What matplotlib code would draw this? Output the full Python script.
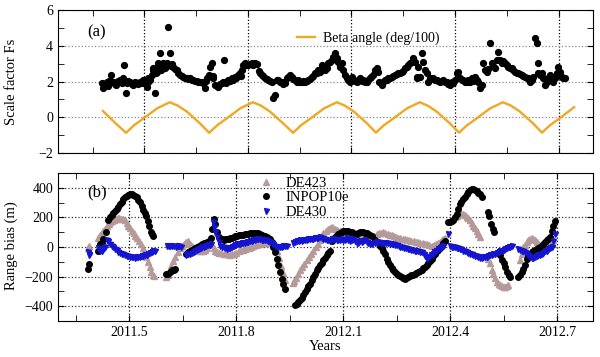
import matplotlib
matplotlib.use("Agg")
import matplotlib.pyplot as plt
from matplotlib.ticker import MultipleLocator

plt.rcParams['font.family'] = ['Liberation Serif', 'DejaVu Serif']

# --- (a) scale factor Fs ---
FS_YEAR = [
    2011.376, 2011.379, 2011.383, 2011.387, 2011.391, 2011.395, 2011.399, 2011.403, 2011.406, 2011.410,
    2011.414, 2011.418, 2011.420, 2011.425, 2011.430, 2011.434, 2011.439, 2011.442, 2011.447, 2011.449,
    2011.453, 2011.459, 2011.463, 2011.468, 2011.472, 2011.478, 2011.483, 2011.488, 2011.492, 2011.497,
    2011.502, 2011.507, 2011.510, 2011.512, 2011.517, 2011.521, 2011.524, 2011.526, 2011.531, 2011.533,
    2011.536, 2011.538, 2011.541, 2011.544, 2011.546, 2011.547, 2011.550, 2011.553, 2011.555, 2011.558,
    2011.560, 2011.565, 2011.570, 2011.574, 2011.577, 2011.579, 2011.584, 2011.589, 2011.594, 2011.598,
    2011.603, 2011.608, 2011.613, 2011.618, 2011.623, 2011.628, 2011.632, 2011.637, 2011.642, 2011.647,
    2011.652, 2011.656, 2011.661, 2011.666, 2011.671, 2011.676, 2011.678, 2011.681, 2011.686, 2011.690,
    2011.695, 2011.698, 2011.700, 2011.705, 2011.710, 2011.714, 2011.719, 2011.724, 2011.728, 2011.732,
    2011.734, 2011.738, 2011.743, 2011.748, 2011.753, 2011.758, 2011.763, 2011.767, 2011.772, 2011.777,
    2011.780, 2011.782, 2011.787, 2011.792, 2011.796, 2011.801, 2011.806, 2011.811, 2011.816, 2011.821,
    2011.826, 2011.831, 2011.835, 2011.840, 2011.845, 2011.850, 2011.855, 2011.859, 2011.864, 2011.869,
    2011.874, 2011.879, 2011.883, 2011.888, 2011.893, 2011.898, 2011.903, 2011.908, 2011.912, 2011.917,
    2011.922, 2011.927, 2011.932, 2011.937, 2011.941, 2011.946, 2011.951, 2011.956, 2011.961, 2011.966,
    2011.970, 2011.975, 2011.980, 2011.985, 2011.990, 2011.995, 2012.000, 2012.004, 2012.009, 2012.014,
    2012.019, 2012.023, 2012.028, 2012.033, 2012.038, 2012.043, 2012.048, 2012.052, 2012.057, 2012.062,
    2012.067, 2012.072, 2012.077, 2012.081, 2012.086, 2012.091, 2012.096, 2012.101, 2012.106, 2012.110,
    2012.115, 2012.120, 2012.125, 2012.130, 2012.134, 2012.139, 2012.144, 2012.149, 2012.154, 2012.158,
    2012.163, 2012.168, 2012.173, 2012.178, 2012.181, 2012.185, 2012.188, 2012.192, 2012.197, 2012.202,
    2012.207, 2012.212, 2012.217, 2012.221, 2012.226, 2012.231, 2012.236, 2012.241, 2012.246, 2012.250,
    2012.255, 2012.260, 2012.265, 2012.270, 2012.275, 2012.279, 2012.284, 2012.289, 2012.291, 2012.294,
    2012.299, 2012.304, 2012.308, 2012.313, 2012.318, 2012.323, 2012.328, 2012.332, 2012.337, 2012.342,
    2012.347, 2012.352, 2012.357, 2012.361, 2012.366, 2012.371, 2012.376, 2012.381, 2012.386, 2012.390,
    2012.395, 2012.400, 2012.405, 2012.410, 2012.415, 2012.420, 2012.424, 2012.429, 2012.434, 2012.439,
    2012.443, 2012.448, 2012.453, 2012.458, 2012.463, 2012.468, 2012.472, 2012.477, 2012.482, 2012.487,
    2012.492, 2012.497, 2012.501, 2012.506, 2012.511, 2012.516, 2012.521, 2012.526, 2012.530, 2012.535,
    2012.540, 2012.545, 2012.550, 2012.555, 2012.560, 2012.564, 2012.569, 2012.574, 2012.579, 2012.583,
    2012.588, 2012.593, 2012.598, 2012.603, 2012.608, 2012.612, 2012.617, 2012.622, 2012.627, 2012.632,
    2012.637, 2012.640, 2012.641, 2012.646, 2012.651, 2012.656, 2012.661, 2012.666, 2012.670, 2012.675,
    2012.680, 2012.685, 2012.690, 2012.695, 2012.699, 2012.704, 2012.709, 2012.714, 2012.719,
]
FS_VAL = [
    1.93, 1.62, 1.85, 1.80, 1.95, 1.75, 2.05, 2.36, 2.00, 1.99,
    1.88, 1.80, 1.95, 2.02, 2.08, 1.92, 2.17, 2.92, 1.37, 1.90,
    2.02, 1.99, 1.85, 1.80, 1.95, 1.90, 1.84, 1.99, 1.93, 2.08,
    1.90, 1.71, 1.95, 2.17, 2.08, 2.36, 2.64, 2.73, 1.34, 2.45,
    2.83, 2.55, 3.01, 2.70, 3.57, 2.64, 2.92, 2.80, 3.01, 2.75,
    2.73, 3.05, 5.03, 3.61, 2.85, 2.98, 2.83, 2.70, 2.64, 2.50,
    2.36, 2.30, 2.27, 2.20, 2.17, 2.12, 2.17, 2.10, 2.08, 2.05,
    2.04, 2.00, 1.99, 1.95, 1.90, 1.62, 2.05, 2.17, 2.36, 2.83,
    3.01, 2.30, 2.17, 1.80, 1.75, 1.71, 1.85, 1.90, 1.95, 3.20,
    1.99, 1.92, 2.08, 2.02, 2.17, 2.10, 2.27, 2.20, 2.36, 2.45,
    2.30, 2.64, 2.92, 3.01, 2.95, 2.92, 3.00, 3.01, 2.95, 3.01,
    2.98, 2.60, 2.45, 2.36, 2.30, 2.17, 2.12, 2.08, 2.02, 1.99,
    1.06, 1.24, 2.10, 2.08, 1.95, 1.99, 1.85, 1.90, 2.17, 2.25,
    2.36, 2.27, 2.15, 2.08, 2.00, 2.08, 1.95, 1.99, 2.05, 1.99,
    2.02, 2.08, 2.15, 2.27, 2.30, 2.45, 2.50, 2.64, 2.55, 2.92,
    2.83, 2.64, 2.75, 3.01, 3.10, 3.20, 3.39, 3.57, 3.29, 3.11,
    2.83, 3.01, 2.64, 2.36, 2.17, 2.08, 1.99, 2.27, 2.08, 2.02,
    1.99, 2.10, 2.17, 2.05, 2.08, 1.95, 1.99, 2.08, 2.17, 2.27,
    2.36, 2.64, 2.73, 2.55, 1.99, 1.90, 1.80, 2.00, 2.08, 2.10,
    2.17, 2.20, 2.27, 2.30, 2.36, 2.40, 2.45, 2.50, 2.55, 2.60,
    2.73, 2.80, 2.92, 3.05, 3.11, 3.29, 3.11, 2.17, 2.27, 2.83,
    2.27, 3.57, 3.11, 2.64, 2.45, 1.99, 2.17, 2.12, 2.17, 2.08,
    2.08, 2.02, 1.99, 2.05, 2.08, 2.00, 1.99, 1.85, 1.80, 1.95,
    1.90, 2.10, 2.45, 2.55, 2.17, 2.10, 2.08, 2.00, 1.99, 2.08,
    1.95, 2.17, 2.05, 2.27, 2.10, 1.99, 1.62, 1.80, 3.01, 2.64,
    2.55, 2.70, 4.17, 3.01, 2.85, 2.73, 3.20, 3.67, 3.20, 3.05,
    3.16, 3.01, 2.92, 2.83, 2.75, 2.73, 2.64, 2.55, 2.50, 2.45,
    2.40, 2.36, 2.30, 2.27, 2.20, 2.17, 1.99, 2.08, 2.27, 4.41,
    4.13, 3.01, 2.45, 2.36, 2.45, 2.17, 1.80, 1.99, 2.17, 2.36,
    2.08, 1.99, 2.17, 2.45, 2.83, 2.55, 2.27, 2.17, 2.20,
]

BETA_YEAR = [
    2011.380, 2011.417, 2011.447, 2011.470, 2011.496, 2011.537, 2011.574, 2011.597, 2011.623, 2011.661,
    2011.688, 2011.711, 2011.737, 2011.778, 2011.815, 2011.838, 2011.864, 2011.902,
    2011.931, 2011.954, 2011.980, 2012.021, 2012.058, 2012.081, 2012.107, 2012.145,
    2012.171, 2012.194, 2012.220, 2012.261, 2012.298, 2012.321, 2012.347, 2012.385,
    2012.412, 2012.435, 2012.461, 2012.502, 2012.539, 2012.562, 2012.588, 2012.626,
    2012.652, 2012.675, 2012.701, 2012.745,
]
BETA_VAL = [
    0.35, -0.34, -0.87, -0.45, -0.09, 0.50, 0.84, 0.65, 0.32, -0.34,
    -0.87, -0.45, -0.09, 0.50, 0.84, 0.65, 0.32, -0.34,
    -0.87, -0.45, -0.09, 0.50, 0.84, 0.65, 0.32, -0.34,
    -0.86, -0.45, -0.09, 0.50, 0.84, 0.65, 0.32, -0.34,
    -0.86, -0.45, -0.09, 0.50, 0.84, 0.65, 0.32, -0.34,
    -0.86, -0.45, -0.09, 0.56,
]

# --- (b) range bias (m) ---
INPOP_YEAR = [
    2011.385, 2011.387,
    2011.413, 2011.418, 2011.422, 2011.427, 2011.434, 2011.439, 2011.446, 2011.450, 2011.455, 2011.460,
    2011.464, 2011.469, 2011.474, 2011.478, 2011.483, 2011.488, 2011.493, 2011.497, 2011.502, 2011.507,
    2011.511, 2011.516, 2011.521, 2011.525, 2011.530, 2011.535, 2011.539, 2011.543, 2011.546, 2011.551,
    2011.556, 2011.561, 2011.564, 2011.567,
    2011.604, 2011.609, 2011.614, 2011.619, 2011.624, 2011.628,
    2011.660, 2011.665, 2011.670, 2011.675, 2011.680, 2011.685, 2011.690, 2011.695, 2011.700, 2011.705,
    2011.710, 2011.717, 2011.722, 2011.728, 2011.733, 2011.736, 2011.740, 2011.745, 2011.750, 2011.754,
    2011.759, 2011.764, 2011.768, 2011.773, 2011.778, 2011.782, 2011.787, 2011.792, 2011.796, 2011.801,
    2011.806, 2011.810, 2011.815, 2011.820, 2011.825, 2011.829, 2011.834, 2011.838, 2011.843, 2011.848,
    2011.852, 2011.857, 2011.862, 2011.866, 2011.871, 2011.876, 2011.880, 2011.885, 2011.890, 2011.894,
    2011.899, 2011.904, 2011.908, 2011.913, 2011.918, 2011.922, 2011.927, 2011.932, 2011.936,
    2011.964, 2011.969, 2011.974, 2011.979, 2011.984, 2011.988, 2011.993, 2011.997, 2012.002, 2012.007,
    2012.011, 2012.016, 2012.021, 2012.025, 2012.030, 2012.035, 2012.040, 2012.044, 2012.049, 2012.053,
    2012.058, 2012.063,
    2012.067, 2012.072, 2012.077, 2012.082, 2012.086, 2012.091, 2012.095, 2012.100, 2012.105, 2012.110,
    2012.114, 2012.119, 2012.123, 2012.128, 2012.133, 2012.137, 2012.142, 2012.147, 2012.151, 2012.156,
    2012.161, 2012.165, 2012.170, 2012.175, 2012.179,
    2012.189, 2012.203, 2012.208, 2012.212, 2012.217, 2012.221, 2012.226, 2012.231, 2012.236, 2012.240,
    2012.245, 2012.249, 2012.254, 2012.259, 2012.264, 2012.268, 2012.273, 2012.277, 2012.282, 2012.287,
    2012.291, 2012.296, 2012.301, 2012.305, 2012.310, 2012.315, 2012.320, 2012.324, 2012.329, 2012.334,
    2012.338, 2012.343, 2012.348, 2012.352, 2012.357, 2012.362, 2012.366, 2012.371, 2012.376, 2012.380,
    2012.385,
    2012.394, 2012.399, 2012.404, 2012.408, 2012.413, 2012.418, 2012.422, 2012.427, 2012.431, 2012.436,
    2012.441, 2012.446, 2012.450, 2012.455, 2012.460, 2012.464, 2012.469, 2012.474, 2012.478, 2012.483,
    2012.488,
    2012.506, 2012.509, 2012.513, 2012.519, 2012.522,
    2012.539, 2012.544, 2012.549, 2012.553, 2012.558, 2012.563, 2012.567,
    2012.591, 2012.595, 2012.600, 2012.605, 2012.609, 2012.614, 2012.619, 2012.623, 2012.628, 2012.633,
    2012.637, 2012.642, 2012.647, 2012.651, 2012.656, 2012.661, 2012.665, 2012.670, 2012.675, 2012.679,
    2012.684, 2012.689, 2012.693,
]
INPOP_RB = [
    -147, -113,
    -24, 21, 30, 55, 100, 183, 200, 215, 227, 242,
    257, 273, 290, 307, 324, 336, 346, 353, 357, 356,
    353, 345, 335, 320, 301, 275, 250, 230, 212, 178,
    140, 100, 88, 77,
    -185, -180, -170, -158, -152, -147,
    -50, -35, -28, -20, -12, -5, 3, 8, 12, 18,
    25, 32, 40, 60, 120, 190, 156, 100, 66, 55,
    52, 50, 52, 55, 55, 58, 62, 66, 72, 77,
    78, 80, 82, 84, 86, 88, 90, 93, 95, 93,
    95, 95, 92, 88, 83, 77, 72, 66, 60, 55,
    32, -1, -35, -80, -124, -169, -214, -250, -281,
    -393, -382, -372, -360, -343, -326, -304, -281, -265, -248,
    -226, -203, -180, -158, -141, -124, -107, -91, -75, -57,
    -42, -24,
    40, 55, 66, 77, 85, 92, 100, 105, 111, 108,
    105, 102, 100, 95, 88, 90, 95, 100, 102, 100,
    95, 92, 88, 80, 77,
    44, 10, -5, -24, -50, -80, -100, -124, -140, -158,
    -170, -180, -190, -198, -205, -212, -214, -210, -205, -198,
    -192, -188, -182, -178, -172, -165, -155, -145, -132, -120,
    -105, -95, -80, -60, -45, -30, -20, -5, 10, 25,
    40,
    167, 167, 178, 180, 200, 223, 257, 290, 305, 324,
    340, 357, 370, 384, 389, 391, 386, 380, 368, 357,
    340,
    234, 212, 156, 122, 100,
    -57, -85, -110, -135, -169, -191, -203,
    -203, -190, -169, -147, -124, -80, -60, -46, -35, -24,
    -18, -12, -6, -1, 10, 21, 32, 44, 55, 66,
    111, 145, 178,
]

DE423_YEAR = [
    2011.384, 2011.387,
    2011.413, 2011.418, 2011.422, 2011.427, 2011.432, 2011.437, 2011.442, 2011.447, 2011.452, 2011.457,
    2011.462, 2011.467, 2011.472, 2011.477, 2011.482, 2011.487, 2011.492, 2011.497, 2011.502, 2011.507,
    2011.512, 2011.517, 2011.522, 2011.527, 2011.532, 2011.537, 2011.542, 2011.547, 2011.552, 2011.557,
    2011.562, 2011.566, 2011.570,
    2011.603, 2011.608, 2011.613, 2011.618, 2011.623, 2011.629, 2011.635, 2011.641, 2011.647, 2011.653,
    2011.659, 2011.664,
    2011.670, 2011.676, 2011.682, 2011.688, 2011.694, 2011.700, 2011.706, 2011.712, 2011.718, 2011.724,
    2011.729, 2011.736, 2011.741, 2011.746, 2011.752, 2011.758, 2011.764, 2011.770, 2011.776, 2011.782,
    2011.788, 2011.794, 2011.800, 2011.806, 2011.812, 2011.818, 2011.824, 2011.830, 2011.836, 2011.842,
    2011.848, 2011.854, 2011.860, 2011.866, 2011.872, 2011.878, 2011.884, 2011.890, 2011.896, 2011.902,
    2011.908, 2011.914, 2011.920, 2011.926, 2011.931, 2011.936,
    2011.958, 2011.963, 2011.968, 2011.974, 2011.979, 2011.985, 2011.991, 2011.997, 2012.003, 2012.010,
    2012.016, 2012.022, 2012.029, 2012.035, 2012.040, 2012.044, 2012.050, 2012.056, 2012.062, 2012.067,
    2012.072, 2012.077, 2012.082, 2012.086, 2012.091, 2012.096, 2012.102, 2012.108, 2012.114, 2012.120,
    2012.126, 2012.132, 2012.138, 2012.144, 2012.151, 2012.158, 2012.165, 2012.172, 2012.180, 2012.186,
    2012.193, 2012.199, 2012.205, 2012.212, 2012.218, 2012.224, 2012.230, 2012.236, 2012.242, 2012.248,
    2012.254, 2012.260, 2012.266, 2012.273, 2012.279, 2012.285, 2012.291, 2012.297, 2012.303, 2012.310,
    2012.316, 2012.322, 2012.329, 2012.335, 2012.341, 2012.348, 2012.354, 2012.360, 2012.366, 2012.372,
    2012.376, 2012.380, 2012.385,
    2012.408, 2012.413, 2012.418, 2012.422, 2012.427, 2012.431, 2012.436, 2012.441, 2012.446, 2012.450,
    2012.455, 2012.460, 2012.464, 2012.469, 2012.474, 2012.478, 2012.483,
    2012.506, 2012.511, 2012.516, 2012.520, 2012.525, 2012.530, 2012.535, 2012.539, 2012.544, 2012.549,
    2012.553, 2012.558, 2012.562,
    2012.595, 2012.600, 2012.605, 2012.609, 2012.614, 2012.619, 2012.623, 2012.628, 2012.633, 2012.637,
    2012.642, 2012.647, 2012.651, 2012.656, 2012.661, 2012.665, 2012.670, 2012.675, 2012.679, 2012.684,
    2012.689,
]
DE423_RB = [
    -5, 10,
    60, 80, 95, 105, 125, 140, 155, 168, 178, 185,
    190, 193, 194, 192, 188, 180, 165, 145, 128, 110,
    92, 75, 58, 40, 20, -5, -35, -65, -100, -135,
    -170, -190, -198,
    -200, -192, -160, -125, -95, -65, -35, -10, 8, 22,
    35, 42,
    20, 5, -10, -20, -28, -30, -28, -20, -5, 15,
    25, -10, -25, -35, -40, -42, -45, -48, -50, -52,
    -50, -46, -40, -30, -22, -18, -14, -10, -5, 2,
    10, 15, 18, 21, 24, 25, 25, 26, 26, 22,
    5, -30, -75, -125, -175, -225,
    -240, -228, -210, -185, -158, -135, -112, -91, -68, -45,
    -24, 0, 22, 44, 70, 93, 110, 122, 130, 133,
    128, 122, 118, 111, 105, 100, 95, 90, 88, 85,
    82, 80, 78, 77, 77, 75, 72, 70, 68, 75,
    85, 95, 98, 100, 95, 90, 84, 78, 72, 66,
    62, 58, 55, 52, 48, 45, 42, 38, 35, 32,
    28, 25, 21, 18, 14, 10, 12, 18, 25, 35,
    44, 55, 62,
    189, 201, 212, 220, 223, 224, 223, 215, 205, 195,
    180, 160, 145, 128, 111, 90, 66,
    -80, -110, -158, -180, -210, -235, -250, -259, -265, -270,
    -268, -262, -259,
    -91, -46, -1, 15, 32, 45, 55, 58, 55, 45,
    32, 20, 10, 8, 10, 5, -1, 2, 5, 25,
    44,
]

DE430_YEAR = [
    2011.384, 2011.386, 2011.388,
    2011.413, 2011.418, 2011.423, 2011.428, 2011.432, 2011.437, 2011.441, 2011.446, 2011.450, 2011.455,
    2011.460, 2011.464, 2011.469, 2011.474, 2011.479, 2011.483, 2011.488, 2011.493, 2011.497, 2011.502,
    2011.507, 2011.511, 2011.516, 2011.521, 2011.525, 2011.530, 2011.535, 2011.539, 2011.544, 2011.549,
    2011.553, 2011.558, 2011.563, 2011.567, 2011.572,
    2011.605, 2011.610, 2011.615, 2011.620, 2011.625, 2011.630, 2011.635, 2011.640, 2011.645,
    2011.660, 2011.665, 2011.670, 2011.675, 2011.680, 2011.685, 2011.690, 2011.695, 2011.700, 2011.705,
    2011.710, 2011.715, 2011.720, 2011.725, 2011.730,
    2011.735, 2011.737, 2011.740, 2011.745, 2011.750, 2011.754, 2011.759, 2011.764, 2011.768, 2011.773,
    2011.778, 2011.782, 2011.787, 2011.792, 2011.796, 2011.801, 2011.806, 2011.810, 2011.815, 2011.820,
    2011.824, 2011.829, 2011.834, 2011.838, 2011.843, 2011.848, 2011.852, 2011.857, 2011.862, 2011.866,
    2011.871, 2011.876, 2011.880, 2011.885, 2011.890, 2011.894, 2011.899, 2011.904, 2011.908, 2011.913,
    2011.918, 2011.922, 2011.927, 2011.932, 2011.936, 2011.941,
    2011.960, 2011.965, 2011.970, 2011.975, 2011.979, 2011.984, 2011.988, 2011.993, 2011.997, 2012.002,
    2012.007, 2012.011, 2012.016, 2012.021, 2012.025, 2012.030, 2012.035, 2012.039, 2012.044, 2012.049,
    2012.053, 2012.058, 2012.063, 2012.067, 2012.072, 2012.077, 2012.082, 2012.086, 2012.091, 2012.095,
    2012.100, 2012.105, 2012.110, 2012.114, 2012.119, 2012.123, 2012.128, 2012.133, 2012.137, 2012.142,
    2012.147, 2012.151, 2012.156, 2012.161, 2012.165, 2012.170, 2012.175, 2012.179,
    2012.190, 2012.195, 2012.200, 2012.205, 2012.210, 2012.215, 2012.220, 2012.225, 2012.230, 2012.235,
    2012.240, 2012.245, 2012.250, 2012.255, 2012.260, 2012.265, 2012.270, 2012.275, 2012.280, 2012.285,
    2012.290, 2012.295, 2012.300, 2012.305, 2012.310, 2012.315, 2012.320, 2012.325, 2012.330, 2012.335,
    2012.340, 2012.345, 2012.350, 2012.355, 2012.360, 2012.365, 2012.370, 2012.375, 2012.380,
    2012.394, 2012.399, 2012.404, 2012.408, 2012.413, 2012.418, 2012.422, 2012.427, 2012.431, 2012.436,
    2012.441, 2012.446, 2012.450, 2012.455, 2012.460, 2012.464, 2012.469, 2012.474, 2012.478, 2012.483,
    2012.488, 2012.492, 2012.497, 2012.502, 2012.506, 2012.511, 2012.516, 2012.520, 2012.525, 2012.530,
    2012.535, 2012.539, 2012.544, 2012.549, 2012.553, 2012.558, 2012.563, 2012.567, 2012.572,
    2012.591, 2012.596, 2012.600, 2012.605, 2012.609, 2012.614, 2012.619, 2012.623, 2012.628, 2012.633,
    2012.637, 2012.642, 2012.647, 2012.651, 2012.656, 2012.661, 2012.665, 2012.670, 2012.675, 2012.679,
    2012.684, 2012.689, 2012.693,
]
DE430_RB = [
    -35, -57, -46,
    -10, -30, -24, -5, 0, 50, 40, 20, 10, 0,
    -12, -22, -35, -40, -46, -50, -57, -60, -64, -66,
    -68, -70, -73, -70, -68, -66, -64, -60, -57, -52,
    -46, -40, -35, -30, -24,
    5, 8, 5, 10, 6, 2, 8, 4, 0,
    -55, -50, -46, -40, -35, -28, -20, -15, -8, -3,
    2, 8, 12, 15, 20,
    167, 133, 100, 66, 32, 10, 0, -1, -8, -12,
    -10, -6, 0, 10, 14, 17, 19, 21, 24, 26,
    28, 32, 35, 39, 42, 44, 50, 55, 55, 52,
    50, 48, 46, 44, 38, 32, 24, 17, 10, 3,
    -1, -3, 0, 5, 8, 10,
    28, 32, 38, 40, 44, 42, 46, 48, 50, 52,
    55, 54, 55, 58, 59, 62, 66, 60, 57, 55,
    48, 44, 40, 55, 52, 55, 48, 44, 50, 55,
    48, 44, 60, 48, 40, 44, 55, 40, 30, 25,
    40, 32, 39, 44, 35, 30, 22, 18,
    30, 32, 35, 30, 28, 30, 26, 24, 22, 21,
    20, 15, 12, 8, 3, 0, -6, -8, -12, -15,
    -19, -20, -24, -26, -28, -32, -35, -46, -60, -80,
    -70, -57, -46, -35, -24, -12, -5, 0, 5,
    88, 10, -1, 0, -3, -6, -8, -12, -16, -24,
    -28, -35, -40, -46, -50, -57, -60, -64, -68, -73,
    -73, -70, -68, -65, -60, -57, -52, -50, -46, -40,
    -35, -30, -24, -18, -12, -6, -1, 3, 5,
    -12, -18, -24, -30, -35, -46, -57, -65, -73, -73,
    -70, -64, -57, -52, -46, -40, -30, -24, -15, -8,
    -1, 40, 88,
]


def style_axis(ax, ygrid_color):
    ax.xaxis.set_major_locator(MultipleLocator(0.3))
    ax.xaxis.set_minor_locator(MultipleLocator(0.15))
    ax.tick_params(which='both', direction='in', top=True, right=True, labelsize=10)
    ax.tick_params(which='major', length=4)
    ax.tick_params(which='minor', length=4)
    ax.grid(True, which='major', axis='x', ls=':', color='black', lw=0.9)
    ax.grid(True, which='major', axis='y', ls=':', color=ygrid_color, lw=0.9)


fig = plt.figure(figsize=(6, 3.57), dpi=100)
ax1 = fig.add_axes([0.0967, 0.5714, 0.8917, 0.4006])
ax2 = fig.add_axes([0.0967, 0.1008, 0.8917, 0.4146])

# panel (a)
ax1.plot(BETA_YEAR, BETA_VAL, color='#f0a820', lw=1.7, label='Beta angle (deg/100)')
ax1.plot(FS_YEAR, FS_VAL, 'o', color='black', ms=4.2, ls='none')
ax1.set_xlim(2011.25, 2012.80)
ax1.set_ylim(-2, 6)
ax1.yaxis.set_major_locator(MultipleLocator(2))
ax1.yaxis.set_minor_locator(MultipleLocator(1))
style_axis(ax1, '#8a8a8a')
ax1.tick_params(labelbottom=False)
ax1.set_ylabel('Scale factor Fs', fontsize=10.5)
ax1.yaxis.set_label_coords(-0.074, 0.5)
ax1.text(0.054, 0.846, '(a)', transform=ax1.transAxes, fontsize=12, va='center')
ax1.legend(loc='upper left', bbox_to_anchor=(0.436, 0.886), frameon=False, fontsize=10,
           handlelength=1.3, handletextpad=0.6, borderaxespad=0)

# panel (b)
ax2.plot(DE423_YEAR, DE423_RB, '^', color='#b59a9a', ms=4.2, ls='none', label='DE423')
ax2.plot(INPOP_YEAR, INPOP_RB, 'o', color='black', ms=4.0, ls='none', label='INPOP10e')
ax2.plot(DE430_YEAR, DE430_RB, 'v', color='#1515d0', ms=3.6, ls='none', label='DE430')
ax2.set_xlim(2011.30, 2012.80)
ax2.set_ylim(-500, 500)
ax2.yaxis.set_major_locator(MultipleLocator(200))
ax2.yaxis.set_minor_locator(MultipleLocator(100))
style_axis(ax2, '#333333')
ax2.set_xticks([2011.5, 2011.8, 2012.1, 2012.4, 2012.7])
ax2.set_xticklabels(['2011.5', '2011.8', '2012.1', '2012.4', '2012.7'])
ax2.set_ylabel('Range bias (m)', fontsize=10.5)
ax2.yaxis.set_label_coords(-0.074, 0.507)
ax2.set_xlabel('Years', fontsize=10.5, labelpad=1)
ax2.text(0.054, 0.872, '(b)', transform=ax2.transAxes, fontsize=12, va='center')
ax2.legend(loc='upper left', bbox_to_anchor=(0.3645, 1.015), frameon=False, fontsize=10.5,
           handlelength=1.0, handletextpad=0.8, labelspacing=0.1, borderaxespad=0)

fig.savefig('out.png', dpi=100)
